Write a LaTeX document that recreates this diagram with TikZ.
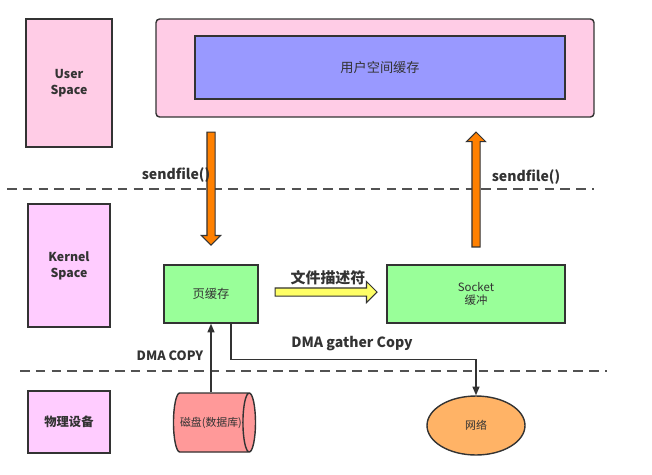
\documentclass[tikz,border=0pt]{standalone}
\usepackage{fontspec}
\setmainfont{Noto Sans CJK SC}
\usetikzlibrary{arrows.meta, positioning, calc, shapes.geometric, shapes.arrows}

\definecolor{edgegray}{HTML}{333333}
\definecolor{userpink}{HTML}{FFCCE6}
\definecolor{kernelviolet}{HTML}{FFCCFF}
\definecolor{bufblue}{HTML}{9999FF}
\definecolor{cachegreen}{HTML}{99FF99}
\definecolor{diskred}{HTML}{FF9999}
\definecolor{netorange}{HTML}{FFB366}
\definecolor{callorange}{HTML}{FF8000}
\definecolor{fdyellow}{HTML}{FFFF66}

\begin{document}
\begin{tikzpicture}[x=0.02cm, y=-0.02cm, >=Stealth, line width=0.8pt,
    every node/.style={text=edgegray},
    box/.style={draw=edgegray, inner sep=0pt, align=center, font=\fontsize{7}{8.5}\selectfont},
    spacebox/.style={box, fill=kernelviolet, minimum width=1.64cm, font=\bfseries\fontsize{7}{9}\selectfont},
    lbl/.style={font=\bfseries\fontsize{8}{9}\selectfont},
    blockarrow/.style={single arrow, draw=edgegray, line width=0.6pt, inner sep=0.07cm, single arrow head extend=0.11cm},
    conn/.style={draw=edgegray, -{Triangle[length=5pt, width=4pt]}},
    layer/.style={draw=edgegray!85, dash pattern=on 5.5pt off 3.5pt}]
    \useasboundingbox (0,0) rectangle (652,474);

    % Layer nodes
    \node[spacebox, fill=userpink, minimum width=1.72cm, minimum height=2.56cm] (user) at (69,83) {User\\Space};
    \node[spacebox, minimum height=2.46cm] (kernel) at (69,265.5) {Kernel\\Space};
    \node[spacebox, minimum height=1.24cm] (phys) at (69,422) {物理设备};

    % Buffers
    \node[box, fill=userpink, rounded corners=2pt, minimum width=8.76cm, minimum height=1.96cm] (uspace) at (375,68) {};
    \node[box, fill=bufblue, minimum width=7.4cm, minimum height=1.26cm, font=\fontsize{7.5}{9}\selectfont] (ubuf) at (380,67.5) {用户空间缓存};
    \node[box, fill=cachegreen, minimum width=1.88cm, minimum height=1.16cm] (pcache) at (211,294) {页缓存};
    \node[box, fill=cachegreen, minimum width=3.56cm, minimum height=1.16cm, font=\fontsize{6.5}{7.5}\selectfont] (socket) at (476,294) {Socket\\缓冲};

    % Devices
    \node[box, cylinder, fill=diskred, cylinder uses custom fill, cylinder body fill=diskred, cylinder end fill=diskred,
          shape aspect=1.1, minimum height=1.64cm, minimum width=1.18cm, font=\fontsize{6.2}{7}\selectfont] (disk) at (211,422.5) {磁盘(数据库)};
    \node[box, ellipse, fill=netorange, minimum width=1.96cm, minimum height=1.18cm, font=\fontsize{6.2}{7}\selectfont] (net) at (476,425.5) {网络};

    % Layer borders
    \draw[layer] (7,189) -- (594,189);
    \draw[layer] (20,371) -- (607,371);

    % sendfile() calls
    \node[blockarrow, fill=callorange, rotate=-90, minimum height=2.26cm] (calldown) at (211,186.5) {};
    \node[blockarrow, fill=callorange, rotate=90, minimum height=2.3cm] (callup) at (476,191.5) {};
    \node[lbl] (sfdown) at (176,175) {sendfile()};
    \node[lbl] (sfup) at (526,177) {sendfile()};

    % File descriptor
    \node[blockarrow, fill=fdyellow, single arrow head extend=0.13cm, minimum height=2.04cm] (fd) at (324,292) {};
    \node[font=\bfseries\fontsize{8.5}{9}\selectfont] (fdlbl) at (328,278) {文件描述符};

    % DMA copies
    \draw[conn] (pcache.south |- disk.north) -- (pcache.south);
    \draw[conn] ($(pcache.south)+(20,0)$) -- ++(0,36) -| (net.north);
    \node[lbl, font=\bfseries\fontsize{7.3}{9}\selectfont] (dmacopy) at (170,356) {DMA COPY};
    \node[lbl] (dmagather) at (352,344) {DMA gather Copy};
\end{tikzpicture}
\end{document}
